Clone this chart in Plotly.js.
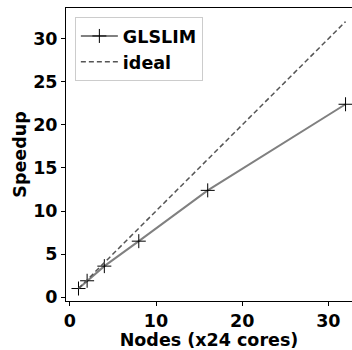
<!DOCTYPE html>
<html>
<head>
<meta charset="utf-8">
<script src="https://cdn.plot.ly/plotly-3.0.1.min.js"></script>
<style>
  html, body { margin: 0; padding: 0; background: #fff; }
  #chart { width: 352px; height: 350px; }
</style>
</head>
<body>
<div id="chart"></div>
<script>
// Strong scaling of GLSLIM versus node count (24 cores per node)
const nodes = [1, 2, 4, 8, 16, 32];
const speedupGlslim = [1.0, 1.9, 3.6, 6.5, 12.4, 22.4];
const speedupIdeal = [1, 2, 4, 8, 16, 32];
const xTicks = [0, 10, 20, 30];
const yTicks = [0, 5, 10, 15, 20, 25, 30];

const boldFont = { family: 'DejaVu Sans', size: 17.5, color: '#000', weight: 'bold' };

const traces = [
  {
    x: nodes, y: speedupGlslim, name: 'GLSLIM',
    mode: 'lines+markers',
    line: { color: '#808080', width: 2 },
    marker: { symbol: 'cross-thin', size: 10, line: { color: '#000', width: 1 }, color: '#000' }
  },
  {
    x: nodes, y: speedupIdeal, name: 'ideal',
    mode: 'lines',
    line: { color: '#555555', width: 1.5, dash: '5px,3px' }
  }
];

const layout = {
  width: 352, height: 350,
  margin: { l: 66, r: 0, t: 8, b: 49 },
  paper_bgcolor: '#fff', plot_bgcolor: '#fff',
  font: boldFont,
  showlegend: true,
  legend: {
    x: 0.031, y: 0.969, xanchor: 'left', yanchor: 'top',
    bgcolor: 'rgba(255,255,255,0.8)', bordercolor: '#cccccc', borderwidth: 1,
    font: boldFont, tracegroupgap: 0, itemwidth: 37
  },
  xaxis: {
    range: [-0.45, 32.75],
    tickvals: xTicks, ticktext: xTicks.map(String),
    ticks: 'outside', ticklen: 4, tickwidth: 1, tickcolor: '#000',
    showgrid: false, zeroline: false,
    showline: true, linecolor: '#000', linewidth: 1, mirror: true,
    tickfont: boldFont,
    title: { text: 'Nodes (x24 cores)', font: boldFont, standoff: 3 },
    automargin: false
  },
  yaxis: {
    range: [-0.45, 33.58],
    tickvals: yTicks, ticktext: yTicks.map(String),
    ticks: 'outside', ticklen: 4, tickwidth: 1, tickcolor: '#000',
    showgrid: false, zeroline: false,
    showline: true, linecolor: '#000', linewidth: 1,
    tickfont: boldFont,
    title: { text: 'Speedup', font: boldFont, standoff: 2 },
    automargin: false
  }
};

Plotly.newPlot('chart', traces, layout, { displayModeBar: false, staticPlot: true });
</script>
</body>
</html>
